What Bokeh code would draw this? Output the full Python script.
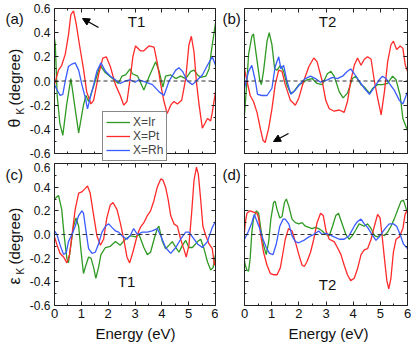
import numpy as np
from bokeh.plotting import figure
from bokeh.layouts import gridplot
from bokeh.models import (FixedTicker, PrintfTickFormatter, Label, Legend, LegendItem,
                          Range1d, Arrow, NormalHead, LinearAxis)
from bokeh.embed import file_html
from bokeh.resources import INLINE

FONT = "Liberation Sans"
C_IR = "#2f9a23"
C_PT = "#ff2a2a"
C_RH = "#3a5cff"

# ---------------- data: theta_K, T1 ----------------
thT1_Pt_E = [0, 0.15, 0.27, 0.4, 0.52, 0.61, 0.71, 0.81, 0.93, 1.08, 1.2, 1.36, 1.46, 1.64, 1.8, 1.93,
             2.08, 2.27, 2.45, 2.58, 2.7, 2.82, 2.92, 3.02, 3.2, 3.33, 3.52, 3.71, 3.83, 3.96, 4.08, 4.2,
             4.33, 4.45, 4.58, 4.74, 4.89, 5.01, 5.1, 5.2, 5.29, 5.39, 5.51, 5.61, 5.7, 5.82, 5.88, 6.0]
thT1_Pt_v = [-0.03, 0.09, 0.13, 0.22, 0.38, 0.55, 0.58, 0.47, 0.3, 0.1, -0.09, -0.19, -0.16, 0.05, 0.19, 0.2,
             0.12, -0.03, -0.12, -0.2, -0.17, 0.02, 0.2, 0.29, 0.25, 0.25, 0.29, 0.28, 0.15, -0.03, -0.17, -0.27,
             -0.2, -0.17, -0.19, -0.16, 0.02, 0.3, 0.37, 0.24, -0.01, -0.2, -0.39, -0.35, -0.31, -0.33, -0.26, -0.09]
thT1_Ir_E = [0, 0.03, 0.1, 0.2, 0.31, 0.45, 0.61, 0.75, 0.9, 1.08, 1.17, 1.27, 1.45, 1.7, 1.89, 2.14, 2.38,
             2.51, 2.65, 2.82, 2.9, 3.1, 3.33, 3.55, 3.77, 3.9, 4.04, 4.14, 4.33, 4.52, 4.7, 4.89, 5.08, 5.2,
             5.33, 5.45, 5.64, 5.76, 5.86, 6.0]
thT1_Ir_v = [0.35, 0.3, -0.12, -0.35, -0.45, -0.2, 0.02, -0.2, -0.43, -0.2, -0.12, -0.17, -0.05, 0.13, 0.07,
             0.025, -0.02, 0.04, 0.05, 0.1, 0.06, 0.04, -0.075, 0.05, 0.16, 0.08, -0.05, 0.04, 0.05, 0.02, 0.04,
             0.02, 0.08, 0.09, 0.05, 0.03, 0.04, 0.1, 0.27, 0.48]
thT1_Rh_E = [0, 0.09, 0.21, 0.31, 0.4, 0.52, 0.65, 0.77, 0.9, 1.02, 1.15, 1.23, 1.33, 1.46, 1.58, 1.73, 1.9,
             2.08, 2.27, 2.45, 2.64, 2.82, 3.0, 3.15, 3.4, 3.65, 3.9, 4.08, 4.27, 4.52, 4.64, 4.77, 4.95, 5.14,
             5.33, 5.51, 5.7, 5.88, 6.0]
thT1_Rh_v = [-0.03, -0.07, -0.12, -0.11, 0.0, 0.12, 0.14, 0.15, 0.09, -0.03, -0.14, -0.23, -0.14, -0.03, 0.08,
             0.15, 0.08, 0.04, 0.01, -0.02, 0.0, 0.01, -0.01, 0.01, -0.01, -0.03, -0.09, -0.12, 0.0, 0.09, 0.11,
             0.08, 0.0, -0.03, 0.01, 0.05, 0.13, 0.2, 0.13]

# ---------------- data: theta_K, T2 ----------------
thT2_Pt_E = [0, 0.09, 0.21, 0.33, 0.46, 0.58, 0.68, 0.76, 0.89, 1.01, 1.13, 1.26, 1.38, 1.5, 1.69, 1.87, 2.0,
             2.18, 2.37, 2.55, 2.67, 2.86, 2.99, 3.12, 3.3, 3.49, 3.67, 3.79, 3.91, 4.04, 4.16, 4.29, 4.41,
             4.53, 4.66, 4.78, 4.9, 5.03, 5.15, 5.27, 5.39, 5.48, 5.6, 5.73, 5.83, 5.92, 6.0]
thT2_Pt_v = [0.1, 0.0, -0.12, -0.17, -0.26, -0.39, -0.49, -0.51, -0.39, -0.23, -0.03, 0.09, 0.08, -0.03, -0.16,
             -0.2, -0.14, 0.0, 0.12, 0.19, 0.16, 0.0, -0.16, -0.23, -0.25, -0.24, -0.26, -0.17, 0.0, 0.13, 0.19,
             0.13, 0.18, 0.2, 0.18, 0.0, -0.14, -0.28, -0.09, 0.16, 0.3, 0.33, 0.26, 0.29, 0.27, 0.13, 0.08]
thT2_Ir_E = [0, 0.09, 0.15, 0.27, 0.33, 0.43, 0.56, 0.62, 0.7, 0.83, 0.91, 1.01, 1.11, 1.2, 1.32, 1.44, 1.56,
             1.69, 1.81, 2.0, 2.12, 2.3, 2.49, 2.67, 2.86, 3.05, 3.18, 3.3, 3.49, 3.63, 3.79, 3.97, 4.1, 4.29,
             4.41, 4.6, 4.72, 4.9, 5.08, 5.27, 5.45, 5.58, 5.73, 5.83, 6.0]
thT2_Ir_v = [-0.28, 0.0, 0.22, 0.37, 0.39, 0.22, 0.01, -0.03, 0.08, 0.33, 0.4, 0.3, 0.1, 0.09, 0.13, 0.08,
             -0.03, -0.1, -0.09, -0.03, -0.02, 0.01, 0.02, -0.02, -0.03, 0.06, 0.08, 0.04, -0.09, -0.14, -0.1,
             0.02, 0.04, -0.03, -0.05, -0.1, -0.06, -0.03, -0.03, -0.02, 0.04, 0.01, -0.12, -0.31, -0.41]
thT2_Rh_E = [0, 0.15, 0.27, 0.4, 0.48, 0.64, 0.83, 1.01, 1.13, 1.26, 1.34, 1.44, 1.56, 1.71, 1.87, 2.06, 2.24,
             2.43, 2.61, 2.8, 3.05, 3.24, 3.42, 3.61, 3.79, 3.91, 4.04, 4.22, 4.41, 4.6, 4.78, 4.96, 5.08, 5.21,
             5.33, 5.51, 5.7, 5.83, 6.0]
thT2_Rh_v = [-0.06, 0.08, 0.13, 0.0, -0.11, -0.12, -0.12, -0.06, 0.12, 0.2, 0.1, 0.13, 0.0, -0.11, -0.075,
             -0.02, 0.02, 0.04, 0.02, -0.01, 0.01, 0.03, 0.02, 0.04, 0.08, 0.1, 0.06, 0.0, -0.06, -0.11, -0.05,
             0.01, 0.04, 0.02, -0.02, -0.075, -0.16, -0.19, -0.09]

# ---------------- data: eps_K, T1 ----------------
epT1_Pt_E = [0, 0.11, 0.21, 0.34, 0.46, 0.56, 0.65, 0.77, 0.9, 1.02, 1.15, 1.23, 1.33, 1.46, 1.58, 1.71, 1.83,
             1.95, 2.08, 2.18, 2.33, 2.45, 2.58, 2.7, 2.8, 2.92, 3.0, 3.09, 3.2, 3.33, 3.46, 3.58, 3.71, 3.83,
             3.96, 4.04, 4.14, 4.24, 4.33, 4.45, 4.58, 4.7, 4.83, 4.91, 5.01, 5.11, 5.2, 5.29, 5.36, 5.45, 5.53,
             5.64, 5.76, 5.88, 5.96, 6.0]
epT1_Pt_v = [-0.02, -0.1, -0.16, -0.19, -0.24, -0.17, -0.01, 0.21, 0.35, 0.36, 0.39, 0.41, 0.35, 0.16, -0.01,
             -0.09, -0.04, 0.14, 0.25, 0.27, 0.21, 0.1, -0.04, -0.19, -0.24, -0.15, -0.08, 0.0, 0.06, 0.1, 0.16,
             0.2, 0.29, 0.4, 0.47, 0.46, 0.4, 0.29, 0.16, 0.09, 0.07, -0.04, -0.13, -0.19, -0.09, 0.18, 0.46,
             0.57, 0.51, 0.29, 0.07, -0.01, -0.08, -0.12, -0.26, -0.23]
epT1_Ir_E = [0, 0.15, 0.27, 0.36, 0.46, 0.52, 0.61, 0.71, 0.8, 0.9, 0.98, 1.08, 1.17, 1.27, 1.36, 1.46, 1.54,
             1.64, 1.73, 1.9, 2.08, 2.27, 2.45, 2.64, 2.82, 3.02, 3.15, 3.33, 3.46, 3.58, 3.71, 3.83, 3.89, 4.02,
             4.14, 4.27, 4.39, 4.52, 4.64, 4.77, 4.89, 5.01, 5.14, 5.33, 5.45, 5.57, 5.7, 5.82, 5.91, 6.0]
epT1_Ir_v = [0.3, 0.33, 0.21, -0.01, -0.2, -0.24, -0.09, 0.07, 0.14, 0.07, -0.12, -0.33, -0.26, -0.19, -0.2,
             -0.28, -0.37, -0.28, -0.17, -0.11, -0.1, -0.06, -0.09, -0.04, -0.01, -0.02, 0.0, -0.11, -0.17, -0.15,
             -0.04, 0.05, 0.07, -0.06, -0.12, -0.09, -0.06, -0.11, -0.15, -0.09, -0.05, -0.11, -0.11, -0.06,
             -0.04, -0.12, -0.23, -0.3, -0.28, -0.17]
epT1_Rh_E = [0, 0.09, 0.21, 0.34, 0.44, 0.52, 0.65, 0.77, 0.9, 1.02, 1.08, 1.18, 1.27, 1.4, 1.52, 1.64, 1.77,
             1.9, 2.02, 2.14, 2.27, 2.39, 2.51, 2.7, 2.82, 2.95, 3.09, 3.27, 3.46, 3.64, 3.83, 3.96, 4.14, 4.33,
             4.52, 4.7, 4.89, 5.01, 5.14, 5.33, 5.51, 5.7, 5.88, 6.0]
epT1_Rh_v = [0.03, 0.0, -0.09, -0.17, -0.15, -0.06, 0.0, 0.07, 0.16, 0.2, 0.18, 0.02, -0.12, -0.16, -0.15,
             -0.08, 0.02, 0.07, 0.09, 0.06, 0.03, 0.02, -0.01, -0.04, -0.01, 0.05, 0.0, 0.02, 0.02, 0.03, 0.05,
             -0.01, -0.11, -0.16, -0.11, -0.04, 0.02, 0.02, -0.02, -0.08, -0.11, -0.06, 0.06, 0.11]

# ---------------- data: eps_K, T2 ----------------
epT2_Pt_E = [0, 0.03, 0.09, 0.21, 0.33, 0.46, 0.52, 0.6, 0.7, 0.83, 0.95, 1.07, 1.2, 1.32, 1.42, 1.5, 1.62,
             1.75, 1.87, 2.0, 2.12, 2.2, 2.3, 2.43, 2.55, 2.67, 2.8, 2.9, 3.0, 3.12, 3.3, 3.42, 3.55, 3.67, 3.79,
             3.91, 4.04, 4.16, 4.29, 4.41, 4.53, 4.66, 4.78, 4.9, 4.99, 5.06, 5.15, 5.24, 5.31, 5.39, 5.48, 5.58,
             5.7, 5.83, 5.91, 6.0]
epT2_Pt_v = [0.02, 0.1, 0.18, 0.2, 0.19, 0.18, 0.14, -0.01, -0.15, -0.26, -0.33, -0.34, -0.34, -0.28, -0.15,
             -0.04, 0.05, 0.03, -0.06, -0.17, -0.26, -0.27, -0.23, -0.15, -0.04, 0.1, 0.18, 0.16, 0.03, -0.04,
             -0.06, -0.11, -0.17, -0.26, -0.34, -0.39, -0.37, -0.29, -0.17, -0.13, -0.12, -0.04, 0.07, 0.17,
             0.14, 0.0, -0.2, -0.39, -0.46, -0.37, -0.15, -0.04, -0.02, 0.05, 0.17, 0.21]
epT2_Ir_E = [0, 0.03, 0.09, 0.15, 0.21, 0.27, 0.33, 0.43, 0.52, 0.6, 0.7, 0.8, 0.89, 0.97, 1.07, 1.13, 1.2,
             1.3, 1.38, 1.47, 1.54, 1.63, 1.75, 1.87, 2.0, 2.12, 2.24, 2.37, 2.49, 2.61, 2.73, 2.86, 2.99, 3.12,
             3.24, 3.36, 3.46, 3.58, 3.73, 3.85, 3.97, 4.1, 4.22, 4.41, 4.53, 4.66, 4.78, 4.9, 5.03, 5.15, 5.27,
             5.39, 5.51, 5.64, 5.76, 5.85, 5.92, 6.0]
epT2_Ir_v = [-0.22, -0.26, -0.3, -0.31, -0.2, 0.02, 0.13, 0.2, 0.18, 0.05, -0.09, -0.17, -0.06, 0.13, 0.27,
             0.28, 0.21, 0.14, 0.15, 0.27, 0.3, 0.24, 0.13, 0.1, 0.09, 0.1, 0.07, 0.06, 0.05, 0.06, 0.05, 0.03,
             0.0, -0.01, 0.07, 0.16, 0.18, 0.1, 0.0, -0.04, -0.01, 0.04, 0.09, 0.07, 0.09, 0.05, -0.01, -0.02,
             0.0, -0.01, 0.02, 0.07, 0.13, 0.21, 0.28, 0.29, 0.24, 0.18]
epT2_Rh_E = [0, 0.15, 0.27, 0.36, 0.46, 0.56, 0.68, 0.8, 0.92, 1.05, 1.17, 1.3, 1.42, 1.5, 1.63, 1.75, 1.87,
             2.0, 2.18, 2.37, 2.55, 2.73, 2.86, 2.99, 3.12, 3.3, 3.49, 3.67, 3.85, 4.04, 4.16, 4.29, 4.41, 4.53,
             4.72, 4.84, 4.96, 5.08, 5.21, 5.33, 5.48, 5.6, 5.73, 5.85, 6.0]
epT2_Rh_v = [-0.04, 0.03, 0.1, 0.17, 0.11, 0.05, -0.04, -0.11, -0.16, -0.17, -0.08, 0.07, 0.13, 0.13, 0.09,
             -0.01, -0.06, -0.07, -0.05, -0.02, 0.0, 0.03, 0.0, 0.01, 0.0, -0.02, -0.04, -0.04, -0.01, 0.07,
             0.11, 0.13, 0.09, 0.06, -0.01, -0.05, -0.02, 0.02, 0.06, 0.09, 0.09, 0.07, 0.0, -0.08, -0.12]

x_ticks = [0, 1, 2, 3, 4, 5, 6]
x_minor = [0.5, 1.5, 2.5, 3.5, 4.5, 5.5]
y_ticks = [-0.6, -0.4, -0.2, 0.0, 0.2, 0.4, 0.6]
y_minor = [-0.5, -0.3, -0.1, 0.1, 0.3, 0.5]
XMIN, XMAX = x_ticks[0], x_ticks[-1]
YMIN, YMAX = y_ticks[0], y_ticks[-1]

# page geometry of each panel: canvas (left, top, w, h), frame (left, top, right, bottom)
GEOM = {
    "a": ((0, 0, 218, 162), (54, 8, 215, 153)),
    "b": ((218, 0, 197, 162), (244, 8, 407, 153)),
    "c": ((0, 162, 218, 180), (54, 163, 215, 305)),
    "d": ((218, 162, 197, 180), (244, 163, 407, 305)),
}


class Panel:
    def __init__(self, key, xlab, ylab):
        (cl, ct, cw, ch), (fl, ft, fr, fb) = GEOM[key]
        self.cl, self.ct, self.fl, self.ft, self.fr, self.fb = cl, ct, fl, ft, fr, fb
        sx = (XMAX - XMIN) / (fr - fl)
        sy = (YMAX - YMIN) / (fb - ft)
        self.sx, self.sy = sx, sy
        xr = Range1d(XMIN - (fl - cl) * sx, XMAX + (cl + cw - fr) * sx)
        yr = Range1d(YMIN - (ct + ch - fb) * sy, YMAX + (ft - ct) * sy)
        p = figure(width=cw, height=ch, x_range=xr, y_range=yr, output_backend="svg",
                   toolbar_location=None, min_border=0, title=None)
        p.min_border_left = p.min_border_right = p.min_border_top = p.min_border_bottom = 0
        p.xgrid.visible = False
        p.ygrid.visible = False
        p.outline_line_color = None
        p.background_fill_color = "white"
        p.border_fill_color = "white"
        self.p = p
        self._axis(p.xaxis[0], FixedTicker(ticks=x_ticks, minor_ticks=x_minor), xlab, "%d", "13px",
                   YMIN, (XMIN, XMAX), 3)
        self._axis(p.yaxis[0], FixedTicker(ticks=y_ticks, minor_ticks=y_minor), ylab, "%.1f", "12px",
                   XMIN, (YMIN, YMAX), 4)
        top = LinearAxis()
        p.add_layout(top, "above")
        self._axis(top, FixedTicker(ticks=x_ticks, minor_ticks=x_minor), False, "%d", "12px",
                   YMAX, (XMIN, XMAX), 0)
        right = LinearAxis()
        p.add_layout(right, "right")
        self._axis(right, FixedTicker(ticks=y_ticks, minor_ticks=y_minor), False, "%.1f", "12px",
                   XMAX, (YMIN, YMAX), 0)

    def _axis(self, ax, ticker, show, fmt, size, loc, bounds, standoff):
        ax.ticker = ticker
        ax.formatter = PrintfTickFormatter(format=fmt)
        ax.fixed_location = loc
        ax.bounds = bounds
        ax.axis_line_color = "#222222"
        ax.axis_line_width = 1
        ax.major_tick_in = 4
        ax.major_tick_out = 0
        ax.minor_tick_in = 2
        ax.minor_tick_out = 0
        ax.major_tick_line_color = "#222222"
        ax.minor_tick_line_color = "#222222"
        ax.major_label_text_font = FONT
        ax.major_label_text_font_size = size
        ax.major_label_standoff = standoff
        ax.major_label_text_color = "#111111" if show else None
        ax.axis_label = None

    def X(self, px):
        return XMIN + (px - self.fl) * self.sx

    def Y(self, py):
        return YMAX - (py - self.ft) * self.sy

    def curves(self, sets):
        rs = []
        for E, v, c in sets:
            rs.append(self.p.line(E, v, line_color=c, line_width=1.3))
        self.p.line([XMIN, XMAX], [0, 0], line_color="#333333", line_dash="4 3", line_width=1)
        return rs

    def text(self, px, py, t, size, align="left", base="top", angle=0.0):
        self.p.add_layout(Label(x=self.X(px), y=self.Y(py), text=t, text_font=FONT,
                                text_font_size=size, text_align=align, text_baseline=base,
                                angle=angle, text_color="#111111"))

    def arrow(self, x0, y0, x1, y1):
        self.p.add_layout(Arrow(end=NormalHead(size=7, fill_color="black", line_color="black"),
                                x_start=self.X(x0), y_start=self.Y(y0),
                                x_end=self.X(x1), y_end=self.Y(y1),
                                line_color="black", line_width=1.3))


A = Panel("a", False, True)
B = Panel("b", False, False)
C = Panel("c", True, True)
D = Panel("d", True, False)

ra = A.curves([(thT1_Ir_E, thT1_Ir_v, C_IR), (thT1_Pt_E, thT1_Pt_v, C_PT), (thT1_Rh_E, thT1_Rh_v, C_RH)])
B.curves([(thT2_Ir_E, thT2_Ir_v, C_IR), (thT2_Pt_E, thT2_Pt_v, C_PT), (thT2_Rh_E, thT2_Rh_v, C_RH)])
C.curves([(epT1_Ir_E, epT1_Ir_v, C_IR), (epT1_Pt_E, epT1_Pt_v, C_PT), (epT1_Rh_E, epT1_Rh_v, C_RH)])
D.curves([(epT2_Ir_E, epT2_Ir_v, C_IR), (epT2_Pt_E, epT2_Pt_v, C_PT), (epT2_Rh_E, epT2_Rh_v, C_RH)])

# legend (bottom-left corner given in canvas pixels)
leg = Legend(items=[LegendItem(label="X=Ir", renderers=[ra[0]]),
                    LegendItem(label="X=Pt", renderers=[ra[1]]),
                    LegendItem(label="X=Rh", renderers=[ra[2]])],
             location=(102, 1), label_text_font=FONT, label_text_font_size="12px",
             glyph_width=24, glyph_height=12, label_height=12, label_standoff=3,
             spacing=0, padding=3, margin=0, border_line_color="#111111",
             border_line_width=1, background_fill_alpha=1.0)
A.p.add_layout(leg)

# panel letters
A.text(5, 9, "(a)", "15px")
B.text(222, 9, "(b)", "15px")
C.text(5, 165, "(c)", "15px")
D.text(222, 165, "(d)", "15px")

# T labels
A.text(136, 21, "T1", "15px", align="center", base="middle")
B.text(327, 21, "T2", "15px", align="center", base="middle")
C.text(126, 281, "T1", "15px", align="center", base="middle")
D.text(327, 284, "T2", "15px", align="center", base="middle")

# rotated y labels with subscript K
R = np.pi / 2
A.text(14, 127, "θ", "16px", base="middle", angle=R)
A.text(20, 114, "K", "10px", base="middle", angle=R)
A.text(14, 105, "(degree)", "15px", base="middle", angle=R)
C.text(14, 284, "ε", "16px", base="middle", angle=R)
C.text(20, 274, "K", "10px", base="middle", angle=R)
C.text(14, 264, "(degree)", "15px", base="middle", angle=R)

# x labels
C.text(135, 333, "Energy (eV)", "15px", align="center", base="alphabetic")
D.text(328, 333, "Energy (eV)", "15px", align="center", base="alphabetic")

# arrows
A.arrow(98, 27, 82, 18)
B.arrow(288, 133, 273, 141)

grid = gridplot([[A.p, B.p], [C.p, D.p]], toolbar_location=None)

open("out.html", "w").write(file_html(grid, INLINE))
